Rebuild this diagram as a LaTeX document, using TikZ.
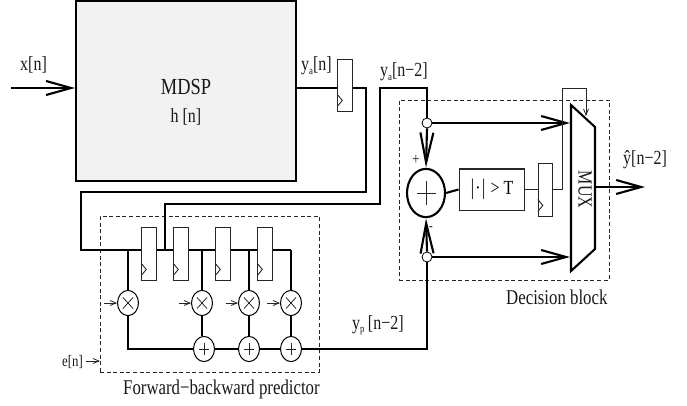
\documentclass[tikz,border=0pt]{standalone}
\usepackage{fontspec}
\setmainfont{Liberation Serif}[FakeStretch=0.8]
\usetikzlibrary{arrows.meta,calc}
\newcommand{\lowsub}[1]{\raisebox{-3.5pt}{\fontsize{11}{11}\selectfont #1}}
\newcommand{\clk}[1]{\draw[thin1] ($(#1.south west)+(0,-17)$) -- ($(#1.south west)+(5,-11)$) -- ($(#1.south west)+(0,-5)$);}
\tikzset{
  thin1/.style={line width=0.9pt,draw=black!85},
  thick2/.style={line width=2.1pt,black,line join=miter},
  tapline/.style={line width=1.7pt,black},
  big/.style={-{Straight Barb[length=25pt,width=14pt,line width=2.1pt]}},
  vert/.style={-{Straight Barb[length=30pt,width=13pt,line width=2.1pt]}},
  small/.style={-{Straight Barb[length=6pt,width=5pt,line width=0.8pt]},line width=0.8pt,black!85},
  ffbox/.style={draw=black!85,line width=0.9pt,fill=white,minimum width=14.5pt,inner sep=0pt},
  ffp/.style={ffbox,minimum height=53pt},
  mulc/.style={circle,draw=black,line width=1pt,fill=white,inner sep=0pt,minimum size=21pt,yscale=1.2},
  junc/.style={circle,draw=black,line width=0.8pt,fill=white,inner sep=0pt,minimum size=10pt},
  dashbox/.style={dashed,dash pattern=on 4pt off 2.6pt,line width=0.7pt,draw=black!85},
  lbl/.style={inner sep=0pt,font=\fontsize{20}{20}\selectfont,text=black!90},
  sym/.style={line width=0.8pt,black!85},
}
\begin{document}
\begin{tikzpicture}[x=1pt,y=-1pt]
\useasboundingbox (0,0) rectangle (687,406);
% dashed regions
\node[dashbox,draw,minimum width=210pt,minimum height=180pt,inner sep=0pt] (dec) at (504,190) {};
\node[dashbox,draw,minimum width=219pt,minimum height=156pt,inner sep=0pt] (pred) at (209.5,294) {};
% blocks
\node[draw=black,line width=2.1pt,fill=black!5,minimum width=220pt,minimum height=180pt,inner sep=0pt] (mdsp) at (186,91) {};
\node[lbl,font=\fontsize{23}{23}\selectfont] (mt) at (186,87) {MDSP};
\node[lbl] (ht) at (186,117) {h [n]};
\node[ffbox,minimum height=52pt] (ff1) at (345,85) {};
\node[ffp] (p1) at (149,253.5) {};
\node[ffp] (p2) at (181,253.5) {};
\node[ffp] (p3) at (223,253.5) {};
\node[ffp] (p4) at (265,253.5) {};
\node[ffbox,minimum height=53pt] (ff2) at (545.5,189.5) {};
\node[draw=black!85,line width=1pt,fill=white,minimum width=65pt,minimum height=41pt,inner sep=0pt,font=\fontsize{20}{20}\selectfont] (th) at (491.5,189.5) {$|$·$|$ > T};
% sum
\node[circle,draw=black,line width=2.1pt,fill=white,inner sep=0pt,minimum size=38pt,yscale=1.27] (sum) at (426,193) {};
\draw[sym] (sum.center) +(-9.5,0) -- +(9.5,0) (sum.center) +(0,-12) -- +(0,12);
% multipliers and adders
\foreach \n/\x in {1/128,2/202,3/249,4/291}{
  \node[mulc] (m\n) at (\x,303) {};
  \draw[sym] (m\n.center) +(-5,-5.5) -- +(5,5.5) (m\n.center) +(-5,5.5) -- +(5,-5.5);
}
\foreach \n/\x in {2/204,3/249,4/291}{
  \node[mulc] (a\n) at (\x,349) {};
  \draw[sym] (a\n.center) +(-5,0) -- +(5,0) (a\n.center) +(0,-6) -- +(0,6);
}
% mux
\coordinate (mtl) at (571,105);
\coordinate (mtr) at (595,127);
\coordinate (mbr) at (595,249);
\coordinate (mbl) at (571,271);
\draw[thick2] (mtl) -- (mtr) -- (mbr) -- (mbl) -- cycle;
\node[lbl,rotate=-90,font=\fontsize{20}{20}\selectfont] (mux) at (585,189.5) {MUX};
% junctions
\node[junc] (j1) at (427,123) {};
\node[junc] (j2) at (427,257) {};
% free ends and corners
\coordinate (xin) at (11,88);
\coordinate (out) at (645,187);
\coordinate (t1) at (128,250);
\coordinate (t2) at (202,250);
\coordinate (t3) at (249,250);
\coordinate (t4) at (291,250);
\coordinate (tap) at (165,250);
\coordinate (e0) at (86,361);
\coordinate (e1) at (100,361);
\coordinate (lowbus) at (128,349);
% connectors
\draw[thick2,big] (xin) -- (xin -| mdsp.west);
\draw[thick2] (mdsp.east |- xin) -- (xin -| ff1.west);
\draw[thick2] (xin -| ff1.east) -- (366,88) -- (366,192) -- (81,192) -- (81,250) -- (t1) -- (t1 -| p1.west);
\draw[thick2] (t1 -| p1.east) -- (t1 -| p2.west);
\draw[thick2] (t1 -| p2.east) -- (t1 -| p3.west);
\draw[thick2] (t1 -| p3.east) -- (t1 -| p4.west);
\draw[thick2] (t1 -| p4.east) -- (t4);
\draw[thick2] (tap) -- (165,204) -- (380,204) -- (380,88) -- (427,88) -- (j1.north);
\draw[tapline] (t1) -- (m1.north);
\draw[tapline] (t2) -- (m2.north);
\draw[tapline] (t3) -- (m3.north);
\draw[tapline] (t4) -- (m4.north);
\draw[tapline] (m2.south) -- (a2.north -| m2.south);
\draw[tapline] (m3.south) -- (a3.north);
\draw[tapline] (m4.south) -- (a4.north);
\draw[thick2] (m1.south) -- (lowbus) -- (a2.west);
\draw[thick2] (a2.east) -- (a3.west);
\draw[thick2] (a3.east) -- (a4.west);
\draw[thick2] (a4.east) -- (427,349) -- (j2.south);
\draw[thick2,vert] (j1.south) -- (sum.north);
\draw[thick2,vert] (j2.north) -- (sum.south);
\draw[thick2,big] (j1.east) -- (570,123);
\draw[thick2,big] (j2.east) -- (570,257);
\draw[thick2] (sum.east) -- (th.west);
\draw[thin1] (th.east) -- (ff2.west);
\draw[thin1] (ff2.east) -- (562,189.5) -- (562,88) -- (586,88);
\draw[small] (586,88) -- (586,116);
\draw[thick2,big] (mbr |- out) -- (out);
\draw[small] (e0) -- (e1);
\draw[small] (104,303) -- (m1.west);
\draw[small] (179,303) -- (m2.west);
\draw[small] (226,303) -- (m3.west);
\draw[small] (267,303) -- (m4.west);
\clk{ff1}\clk{p1}\clk{p2}\clk{p3}\clk{p4}\clk{ff2}
% labels
\node[lbl,anchor=west] (lx) at (20,65) {x[n]};
\node[lbl,anchor=west] (ly) at (301,66) {y\lowsub{a}[n]};
\node[lbl,anchor=west] (ly2) at (380,72) {y\lowsub{a}[n−2]};
\node[lbl,anchor=west] (lyh) at (623,160) {ŷ[n−2]};
\node[lbl,anchor=west] (lyp) at (352,325) {y\lowsub{p}\,[n−2]};
\node[lbl,anchor=west,font=\fontsize{21}{21}\selectfont] (ldec) at (506,297) {Decision block};
\node[lbl,anchor=west,font=\fontsize{21}{21}\selectfont] (lpred) at (123,389) {Forward−backward predictor};
\node[lbl,anchor=west,font=\fontsize{16}{16}\selectfont] (le) at (62,362) {e[n]};
\node[lbl,font=\fontsize{16}{16}\selectfont] (lp) at (416,160) {+};
\node[lbl,font=\fontsize{14}{14}\selectfont] (lm) at (431,229) {-};
\end{tikzpicture}
\end{document}
